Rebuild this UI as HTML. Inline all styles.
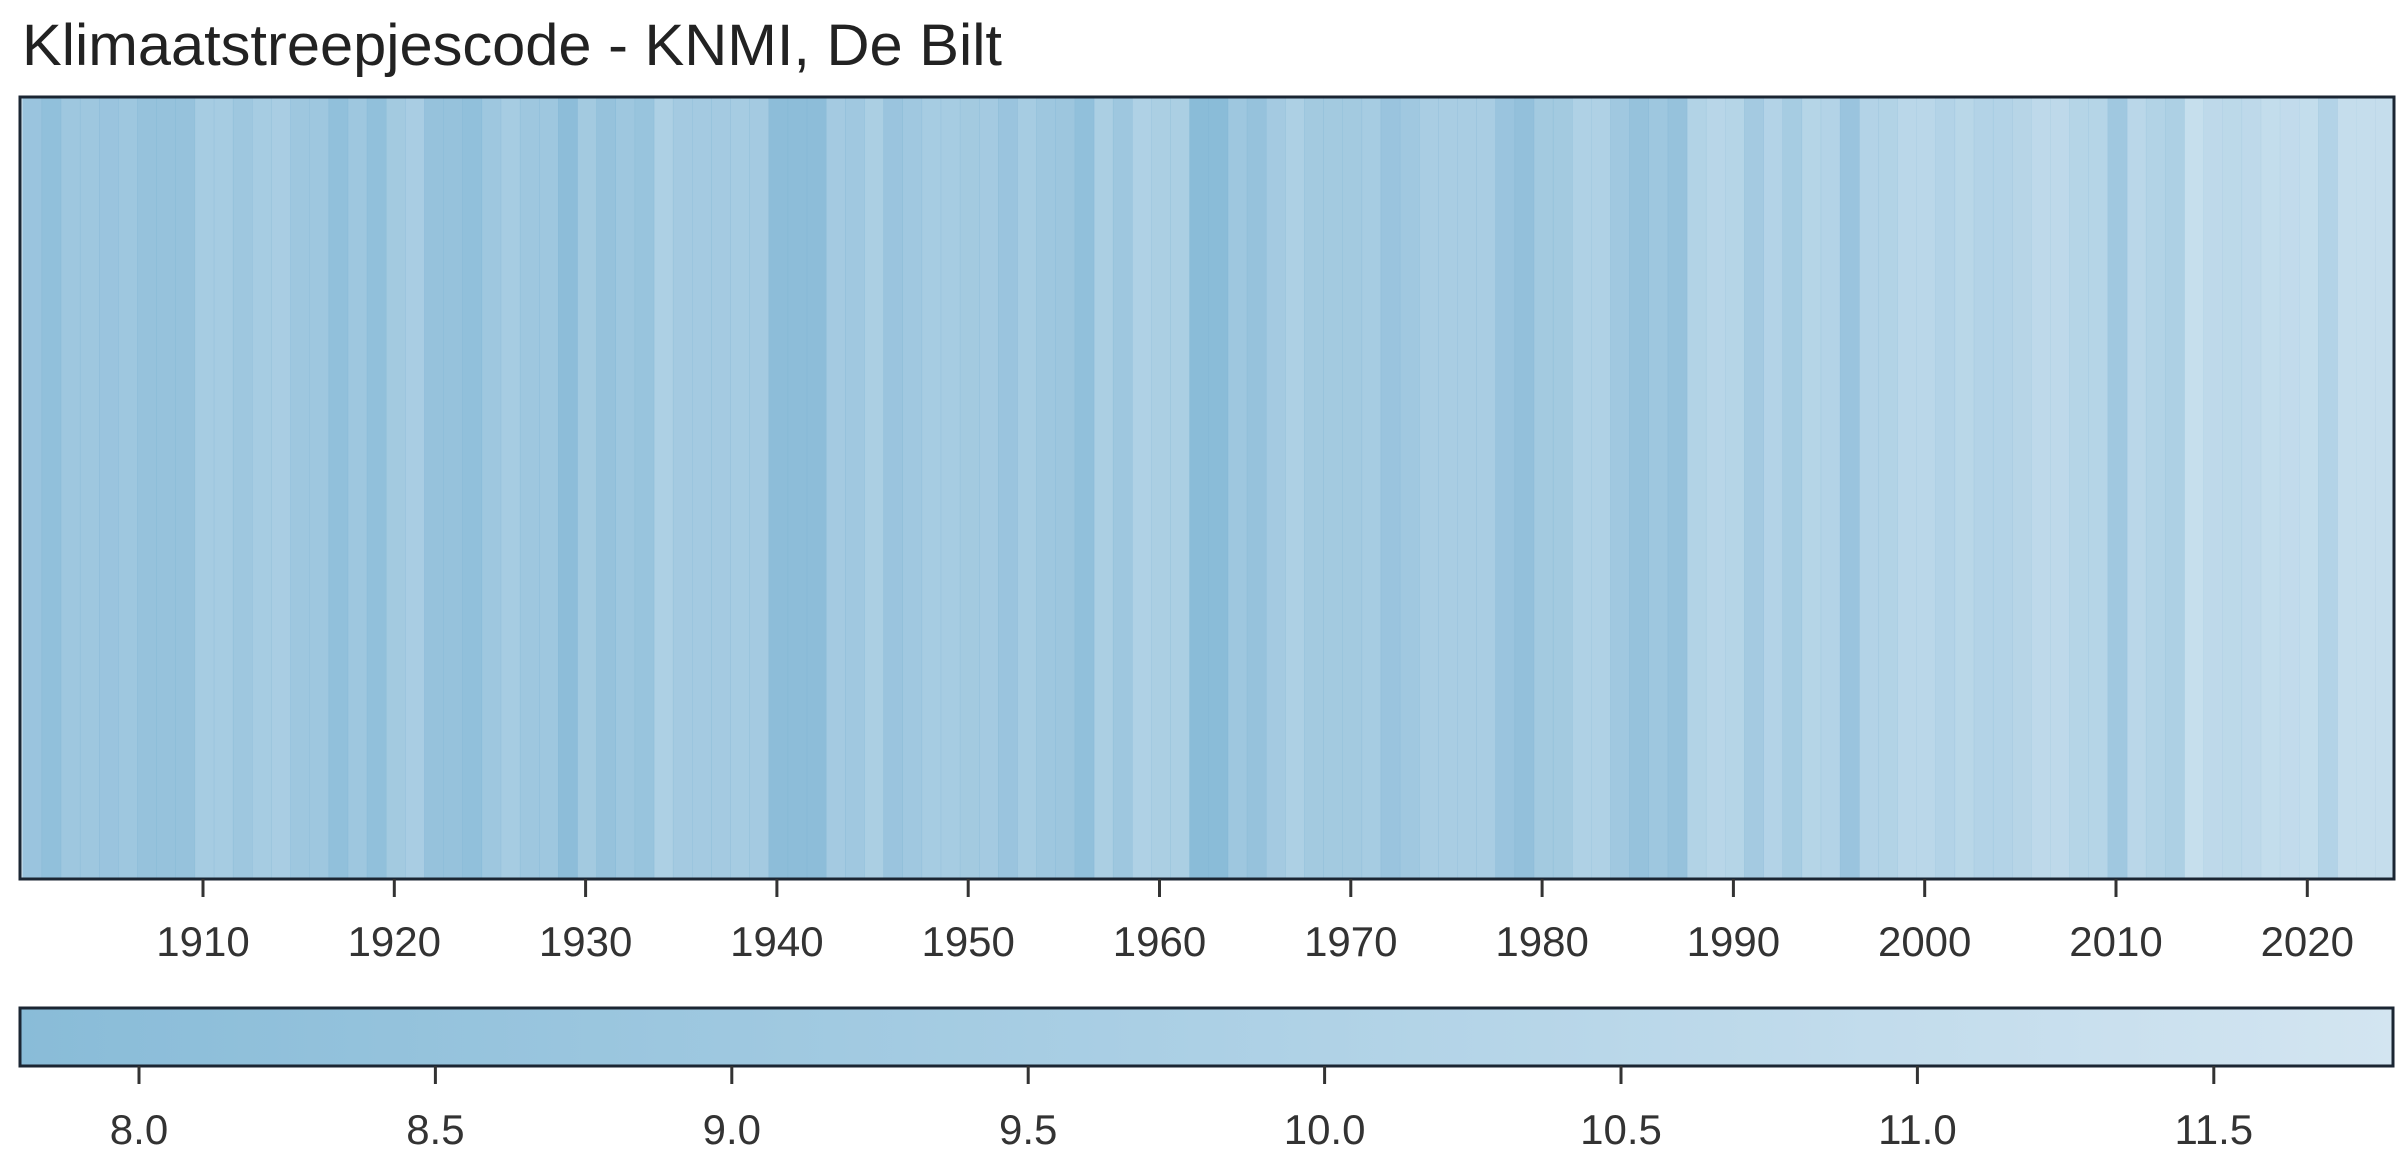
<!DOCTYPE html>
<html><head><meta charset="utf-8"><style>html,body{margin:0;padding:0;background:#fff}svg{display:block}</style></head>
<body>
<svg width="2400" height="1164" viewBox="0 0 2400 1164" xmlns="http://www.w3.org/2000/svg" font-family="Liberation Sans, sans-serif">
<defs>
<linearGradient id="cb" x1="0" x2="1" y1="0" y2="0">
<stop offset="0" stop-color="#89bcd8"/><stop offset="0.5" stop-color="#acd0e5"/><stop offset="1" stop-color="#d3e5f1"/>
</linearGradient>
</defs>
<text x="22" y="65" font-size="58" fill="#222" textLength="980" lengthAdjust="spacingAndGlyphs">Klimaatstreepjescode - KNMI, De Bilt</text>
<rect x="20" y="97" width="2374" height="782" fill="#d6e8f3"/>
<g fill="#80b5d4">
<rect x="22.5" y="97" width="19.6" height="782" fill-opacity="0.7"/>
<rect x="41.6" y="97" width="19.6" height="782" fill-opacity="0.8"/>
<rect x="60.8" y="97" width="19.6" height="782" fill-opacity="0.65"/>
<rect x="79.9" y="97" width="19.6" height="782" fill-opacity="0.65"/>
<rect x="99.0" y="97" width="19.6" height="782" fill-opacity="0.7"/>
<rect x="118.2" y="97" width="19.6" height="782" fill-opacity="0.65"/>
<rect x="137.3" y="97" width="19.6" height="782" fill-opacity="0.75"/>
<rect x="156.4" y="97" width="19.6" height="782" fill-opacity="0.75"/>
<rect x="175.5" y="97" width="19.6" height="782" fill-opacity="0.75"/>
<rect x="194.7" y="97" width="19.6" height="782" fill-opacity="0.55"/>
<rect x="213.8" y="97" width="19.6" height="782" fill-opacity="0.55"/>
<rect x="232.9" y="97" width="19.6" height="782" fill-opacity="0.65"/>
<rect x="252.1" y="97" width="19.6" height="782" fill-opacity="0.55"/>
<rect x="271.2" y="97" width="19.6" height="782" fill-opacity="0.52"/>
<rect x="290.3" y="97" width="19.6" height="782" fill-opacity="0.65"/>
<rect x="309.5" y="97" width="19.6" height="782" fill-opacity="0.65"/>
<rect x="328.6" y="97" width="19.6" height="782" fill-opacity="0.8"/>
<rect x="347.7" y="97" width="19.6" height="782" fill-opacity="0.65"/>
<rect x="366.8" y="97" width="19.6" height="782" fill-opacity="0.8"/>
<rect x="386.0" y="97" width="19.6" height="782" fill-opacity="0.6"/>
<rect x="405.1" y="97" width="19.6" height="782" fill-opacity="0.52"/>
<rect x="424.2" y="97" width="19.6" height="782" fill-opacity="0.75"/>
<rect x="443.4" y="97" width="19.6" height="782" fill-opacity="0.75"/>
<rect x="462.5" y="97" width="19.6" height="782" fill-opacity="0.8"/>
<rect x="481.6" y="97" width="19.6" height="782" fill-opacity="0.65"/>
<rect x="500.8" y="97" width="19.6" height="782" fill-opacity="0.55"/>
<rect x="519.9" y="97" width="19.6" height="782" fill-opacity="0.65"/>
<rect x="539.0" y="97" width="19.6" height="782" fill-opacity="0.65"/>
<rect x="558.1" y="97" width="19.6" height="782" fill-opacity="0.85"/>
<rect x="577.3" y="97" width="19.6" height="782" fill-opacity="0.6"/>
<rect x="596.4" y="97" width="19.6" height="782" fill-opacity="0.75"/>
<rect x="615.5" y="97" width="19.6" height="782" fill-opacity="0.65"/>
<rect x="634.7" y="97" width="19.6" height="782" fill-opacity="0.72"/>
<rect x="653.8" y="97" width="19.6" height="782" fill-opacity="0.48"/>
<rect x="672.9" y="97" width="19.6" height="782" fill-opacity="0.58"/>
<rect x="692.1" y="97" width="19.6" height="782" fill-opacity="0.58"/>
<rect x="711.2" y="97" width="19.6" height="782" fill-opacity="0.58"/>
<rect x="730.3" y="97" width="19.6" height="782" fill-opacity="0.55"/>
<rect x="749.4" y="97" width="19.6" height="782" fill-opacity="0.58"/>
<rect x="768.6" y="97" width="19.6" height="782" fill-opacity="0.85"/>
<rect x="787.7" y="97" width="19.6" height="782" fill-opacity="0.85"/>
<rect x="806.8" y="97" width="19.6" height="782" fill-opacity="0.85"/>
<rect x="826.0" y="97" width="19.6" height="782" fill-opacity="0.58"/>
<rect x="845.1" y="97" width="19.6" height="782" fill-opacity="0.62"/>
<rect x="864.2" y="97" width="19.6" height="782" fill-opacity="0.5"/>
<rect x="883.4" y="97" width="19.6" height="782" fill-opacity="0.7"/>
<rect x="902.5" y="97" width="19.6" height="782" fill-opacity="0.62"/>
<rect x="921.6" y="97" width="19.6" height="782" fill-opacity="0.55"/>
<rect x="940.7" y="97" width="19.6" height="782" fill-opacity="0.55"/>
<rect x="959.9" y="97" width="19.6" height="782" fill-opacity="0.6"/>
<rect x="979.0" y="97" width="19.6" height="782" fill-opacity="0.58"/>
<rect x="998.1" y="97" width="19.6" height="782" fill-opacity="0.7"/>
<rect x="1017.3" y="97" width="19.6" height="782" fill-opacity="0.55"/>
<rect x="1036.4" y="97" width="19.6" height="782" fill-opacity="0.65"/>
<rect x="1055.5" y="97" width="19.6" height="782" fill-opacity="0.67"/>
<rect x="1074.7" y="97" width="19.6" height="782" fill-opacity="0.8"/>
<rect x="1093.8" y="97" width="19.6" height="782" fill-opacity="0.5"/>
<rect x="1112.9" y="97" width="19.6" height="782" fill-opacity="0.65"/>
<rect x="1132.0" y="97" width="19.6" height="782" fill-opacity="0.45"/>
<rect x="1151.2" y="97" width="19.6" height="782" fill-opacity="0.5"/>
<rect x="1170.3" y="97" width="19.6" height="782" fill-opacity="0.5"/>
<rect x="1189.4" y="97" width="19.6" height="782" fill-opacity="0.88"/>
<rect x="1208.6" y="97" width="19.6" height="782" fill-opacity="0.88"/>
<rect x="1227.7" y="97" width="19.6" height="782" fill-opacity="0.65"/>
<rect x="1246.8" y="97" width="19.6" height="782" fill-opacity="0.75"/>
<rect x="1266.0" y="97" width="19.6" height="782" fill-opacity="0.58"/>
<rect x="1285.1" y="97" width="19.6" height="782" fill-opacity="0.48"/>
<rect x="1304.2" y="97" width="19.6" height="782" fill-opacity="0.6"/>
<rect x="1323.3" y="97" width="19.6" height="782" fill-opacity="0.6"/>
<rect x="1342.5" y="97" width="19.6" height="782" fill-opacity="0.6"/>
<rect x="1361.6" y="97" width="19.6" height="782" fill-opacity="0.55"/>
<rect x="1380.7" y="97" width="19.6" height="782" fill-opacity="0.7"/>
<rect x="1399.9" y="97" width="19.6" height="782" fill-opacity="0.62"/>
<rect x="1419.0" y="97" width="19.6" height="782" fill-opacity="0.52"/>
<rect x="1438.1" y="97" width="19.6" height="782" fill-opacity="0.52"/>
<rect x="1457.3" y="97" width="19.6" height="782" fill-opacity="0.52"/>
<rect x="1476.4" y="97" width="19.6" height="782" fill-opacity="0.52"/>
<rect x="1495.5" y="97" width="19.6" height="782" fill-opacity="0.7"/>
<rect x="1514.6" y="97" width="19.6" height="782" fill-opacity="0.78"/>
<rect x="1533.8" y="97" width="19.6" height="782" fill-opacity="0.6"/>
<rect x="1552.9" y="97" width="19.6" height="782" fill-opacity="0.6"/>
<rect x="1572.0" y="97" width="19.6" height="782" fill-opacity="0.45"/>
<rect x="1591.2" y="97" width="19.6" height="782" fill-opacity="0.45"/>
<rect x="1610.3" y="97" width="19.6" height="782" fill-opacity="0.62"/>
<rect x="1629.4" y="97" width="19.6" height="782" fill-opacity="0.75"/>
<rect x="1648.6" y="97" width="19.6" height="782" fill-opacity="0.65"/>
<rect x="1667.7" y="97" width="19.6" height="782" fill-opacity="0.75"/>
<rect x="1686.8" y="97" width="19.6" height="782" fill-opacity="0.42"/>
<rect x="1705.9" y="97" width="19.6" height="782" fill-opacity="0.35"/>
<rect x="1725.1" y="97" width="19.6" height="782" fill-opacity="0.38"/>
<rect x="1744.2" y="97" width="19.6" height="782" fill-opacity="0.58"/>
<rect x="1763.3" y="97" width="19.6" height="782" fill-opacity="0.4"/>
<rect x="1782.5" y="97" width="19.6" height="782" fill-opacity="0.55"/>
<rect x="1801.6" y="97" width="19.6" height="782" fill-opacity="0.38"/>
<rect x="1820.7" y="97" width="19.6" height="782" fill-opacity="0.4"/>
<rect x="1839.9" y="97" width="19.6" height="782" fill-opacity="0.7"/>
<rect x="1859.0" y="97" width="19.6" height="782" fill-opacity="0.4"/>
<rect x="1878.1" y="97" width="19.6" height="782" fill-opacity="0.42"/>
<rect x="1897.2" y="97" width="19.6" height="782" fill-opacity="0.32"/>
<rect x="1916.4" y="97" width="19.6" height="782" fill-opacity="0.32"/>
<rect x="1935.5" y="97" width="19.6" height="782" fill-opacity="0.4"/>
<rect x="1954.6" y="97" width="19.6" height="782" fill-opacity="0.34"/>
<rect x="1973.8" y="97" width="19.6" height="782" fill-opacity="0.4"/>
<rect x="1992.9" y="97" width="19.6" height="782" fill-opacity="0.4"/>
<rect x="2012.0" y="97" width="19.6" height="782" fill-opacity="0.36"/>
<rect x="2031.2" y="97" width="19.6" height="782" fill-opacity="0.28"/>
<rect x="2050.3" y="97" width="19.6" height="782" fill-opacity="0.28"/>
<rect x="2069.4" y="97" width="19.6" height="782" fill-opacity="0.38"/>
<rect x="2088.5" y="97" width="19.6" height="782" fill-opacity="0.38"/>
<rect x="2107.7" y="97" width="19.6" height="782" fill-opacity="0.62"/>
<rect x="2126.8" y="97" width="19.6" height="782" fill-opacity="0.32"/>
<rect x="2145.9" y="97" width="19.6" height="782" fill-opacity="0.42"/>
<rect x="2165.1" y="97" width="19.6" height="782" fill-opacity="0.48"/>
<rect x="2184.2" y="97" width="19.6" height="782" fill-opacity="0.18"/>
<rect x="2203.3" y="97" width="19.6" height="782" fill-opacity="0.28"/>
<rect x="2222.5" y="97" width="19.6" height="782" fill-opacity="0.3"/>
<rect x="2241.6" y="97" width="19.6" height="782" fill-opacity="0.28"/>
<rect x="2260.7" y="97" width="19.6" height="782" fill-opacity="0.22"/>
<rect x="2279.8" y="97" width="19.6" height="782" fill-opacity="0.24"/>
<rect x="2299.0" y="97" width="19.6" height="782" fill-opacity="0.22"/>
<rect x="2318.1" y="97" width="19.6" height="782" fill-opacity="0.4"/>
<rect x="2337.2" y="97" width="19.6" height="782" fill-opacity="0.2"/>
<rect x="2356.4" y="97" width="19.6" height="782" fill-opacity="0.2"/>
<rect x="2375.5" y="97" width="18.5" height="782" fill-opacity="0.2"/>
</g>
<rect x="20" y="97" width="2374" height="782" fill="none" stroke="#1b2633" stroke-width="3"/>
<g stroke="#333" stroke-width="3">
<line x1="203" y1="879" x2="203" y2="897"/><line x1="394.3" y1="879" x2="394.3" y2="897"/><line x1="585.6" y1="879" x2="585.6" y2="897"/><line x1="776.9" y1="879" x2="776.9" y2="897"/><line x1="968.2" y1="879" x2="968.2" y2="897"/><line x1="1159.5" y1="879" x2="1159.5" y2="897"/><line x1="1350.8" y1="879" x2="1350.8" y2="897"/><line x1="1542.1" y1="879" x2="1542.1" y2="897"/><line x1="1733.4" y1="879" x2="1733.4" y2="897"/><line x1="1924.7" y1="879" x2="1924.7" y2="897"/><line x1="2116" y1="879" x2="2116" y2="897"/><line x1="2307.3" y1="879" x2="2307.3" y2="897"/>
</g>
<g font-size="42" fill="#333" text-anchor="middle">
<text x="203" y="956">1910</text><text x="394.3" y="956">1920</text><text x="585.6" y="956">1930</text><text x="776.9" y="956">1940</text><text x="968.2" y="956">1950</text><text x="1159.5" y="956">1960</text><text x="1350.8" y="956">1970</text><text x="1542.1" y="956">1980</text><text x="1733.4" y="956">1990</text><text x="1924.7" y="956">2000</text><text x="2116" y="956">2010</text><text x="2307.3" y="956">2020</text>
</g>
<rect x="20" y="1008" width="2373" height="58" fill="url(#cb)" stroke="#1b2633" stroke-width="3"/>
<g stroke="#333" stroke-width="3">
<line x1="139" y1="1066" x2="139" y2="1084"/><line x1="435.4" y1="1066" x2="435.4" y2="1084"/><line x1="731.8" y1="1066" x2="731.8" y2="1084"/><line x1="1028.2" y1="1066" x2="1028.2" y2="1084"/><line x1="1324.6" y1="1066" x2="1324.6" y2="1084"/><line x1="1621" y1="1066" x2="1621" y2="1084"/><line x1="1917.4" y1="1066" x2="1917.4" y2="1084"/><line x1="2213.8" y1="1066" x2="2213.8" y2="1084"/>
</g>
<g font-size="42" fill="#333" text-anchor="middle">
<text x="139" y="1144">8.0</text><text x="435.4" y="1144">8.5</text><text x="731.8" y="1144">9.0</text><text x="1028.2" y="1144">9.5</text><text x="1324.6" y="1144">10.0</text><text x="1621" y="1144">10.5</text><text x="1917.4" y="1144">11.0</text><text x="2213.8" y="1144">11.5</text>
</g>
</svg>
</body></html>
